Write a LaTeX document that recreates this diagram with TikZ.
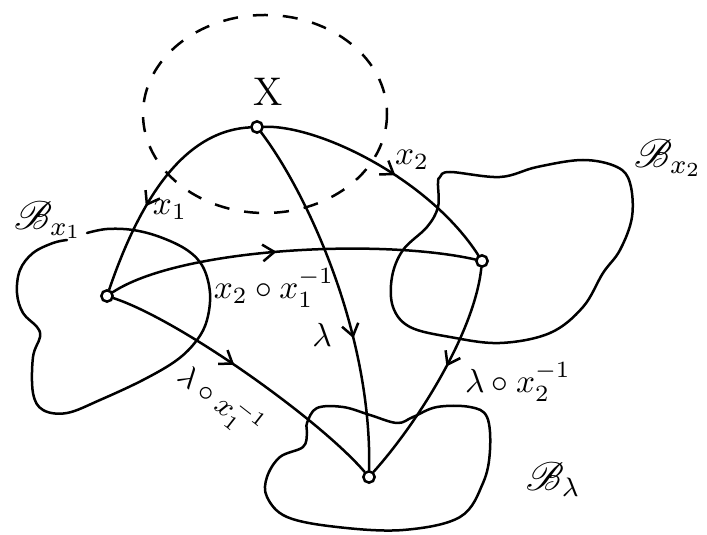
\documentclass[tikz,border=0pt]{standalone}
\usepackage{amsmath,amssymb}
\usepackage{mathrsfs}
\usetikzlibrary{arrows.meta,decorations.markings}

\begin{document}
\begin{tikzpicture}[
  x=0.3pt, y=-0.3pt,
  line width=0.75pt,
  spot/.style={circle, draw, fill=white, inner sep=0pt, minimum size=3.4pt},
  mapto/.style={line cap=round},
  mid/.style={postaction={decorate}, decoration={markings,
      mark=at position #1 with {\arrow{Straight Barb[length=3.5pt,width=5pt]}}}},
  blob/.style={line cap=round, line join=round},
  lbl/.style={font=\normalsize, inner sep=1pt},
  space/.style={font=\large, inner sep=1pt}
]
\useasboundingbox (0,0) rectangle (707,535);
% ---- neighbourhood of the point in X ----
\draw[dash pattern=on 4.5pt off 4.5pt] (265,114) ellipse [x radius=122, y radius=99];
% ---- the sets B ----
\draw[blob] plot[smooth, tension=0.6] coordinates {(87,233) (107,229) (133,230) (160,237) (187,250)
  (203,267) (210,293) (207,320) (197,340) (177,360) (143,380) (100,400) (67,413) (43,410)
  (33,393) (33,357) (40,337) (37,327) (23,313) (17,293) (20,270) (33,253) (53,243) (67,240)};
\draw[blob] plot[smooth cycle, tension=0.6] coordinates {(440,177) (450,172) (500,177) (537,167)
  (583,160) (617,167) (630,183) (632,217) (620,250) (603,273) (583,307) (550,333) (500,343)
  (450,337) (410,327) (393,307) (392,277) (403,250) (427,227) (438,207) (438,183)};
\draw[blob] plot[smooth cycle, tension=0.6] coordinates {(307,423) (317,408) (343,407) (370,415)
  (397,423) (413,417) (437,407) (470,407) (487,417) (490,450) (483,483) (460,517) (403,530)
  (337,527) (287,517) (267,497) (267,477) (280,457) (303,447) (307,433)};
% ---- points ----
\node[spot] (pX) at (257,127) {};
\node[spot] (p1) at (107,296) {};
\node[spot] (p2) at (482,261) {};
\node[spot] (pl) at (369,477) {};
% ---- maps ----
\draw[mapto, mid=0.6] (pX) .. controls (200,130) and (150,170) .. (p1);
\draw[mapto, mid=0.55] (pX) .. controls (320,125) and (430,180) .. (p2);
\draw[mapto, mid=0.63] (pX) .. controls (305,190) and (372,330) .. (pl);
\draw[mapto, mid=0.46] (p1) .. controls (180,248) and (380,238) .. (p2);
\draw[mapto, mid=0.45] (p1) .. controls (180,320) and (320,420) .. (pl);
\draw[mapto, mid=0.45] (p2) .. controls (475,330) and (420,420) .. (pl);
% ---- labels ----
\node[font=\large, inner sep=1pt] (lX) at (268,92) {X};
\node[lbl] (lx1) at (170,210) {$x_1$};
\node[lbl] (lx2) at (412,160) {$x_2$};
\node[lbl] (llam) at (322,335) {$\lambda$};
\node[lbl] (lc21) at (274,288) {$x_2\circ x_1^{-1}$};
\node[lbl, font=\small, rotate=-38] (lc1) at (220,402) {$\lambda\circ x_1^{-1}$};
\node[lbl] (lc2) at (518,382) {$\lambda\circ x_2^{-1}$};
\node[space] (lBx1) at (48,220) {$\mathscr{B}_{x_1}$};
\node[space] (lBx2) at (668,158) {$\mathscr{B}_{x_2}$};
\node[space] (lBl) at (553,480) {$\mathscr{B}_{\lambda}$};
\end{tikzpicture}
\end{document}
